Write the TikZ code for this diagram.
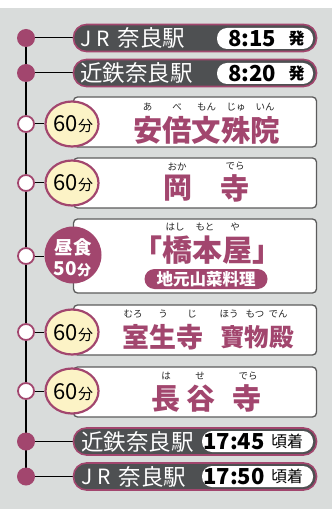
\documentclass[tikz,border=0pt]{standalone}
\usepackage{fontspec}
\setmainfont{Noto Sans CJK JP}
\usetikzlibrary{backgrounds,shapes.geometric}
\definecolor{bg}{HTML}{D9DCDB}
\definecolor{mag}{HTML}{A2466E}
\definecolor{dk}{HTML}{4E5052}
\definecolor{cream}{HTML}{FCF3C6}
\definecolor{bx}{HTML}{5C5C5C}
\newcommand{\fs}[1]{\fontsize{#1}{#1}\selectfont}
\begin{document}
\begin{tikzpicture}[x=1pt,y=-1pt,
  dotf/.style={circle, fill=mag, minimum size=18pt, inner sep=0pt},
  doth/.style={circle, fill=white, draw=mag, line width=1.8pt, minimum size=16pt, inner sep=0pt},
  stpill/.style={rectangle, rounded corners=13pt, fill=dk, draw=mag, line width=1.6pt, minimum width=243pt, minimum height=27pt, inner sep=0pt},
  tpill/.style={rectangle, rounded corners=10pt, fill=white, minimum height=21pt, inner sep=0pt},
  card/.style={rectangle, rounded corners=4pt, fill=white, draw=bx, line width=1.3pt, minimum width=243pt, inner sep=0pt},
  oval/.style={ellipse, fill=cream, draw=mag, line width=2.2pt, minimum width=53pt, minimum height=45pt, inner sep=0pt},
  lunch/.style={circle, fill=mag, minimum size=57pt, inner sep=0pt},
  sttxt/.style={text=white, anchor=west, inner sep=0pt, font=\fs{22.5}},
  jrtxt/.style={text=white, anchor=west, inner sep=0pt, font=\fs{21}},
  ttl/.style={text=mag, inner sep=0pt, font=\bfseries\fs{29}},
  furi/.style={text=black!85, inner sep=0pt, font=\fs{9.5}},
  conn/.style={line width=1pt, black}
]
\useasboundingbox (0,0) rectangle (332,518);
% station pills
\node[stpill] (p1) at (195,38) {};
\node[stpill] (p2) at (195,73) {};
\node[stpill] (p6) at (195,441.5) {};
\node[stpill] (p7) at (195,476.5) {};
\node[jrtxt] (s1j) at (80,38.5) {J};
\node[jrtxt] (s1r) at (96,38.5) {R};
\node[sttxt] (s1) at (117.5,38) {奈良駅};
\node[sttxt] (s2) at (80,73) {近鉄奈良駅};
\node[sttxt] (s6) at (81,441.5) {近鉄奈良駅};
\node[jrtxt] (s7j) at (81,477) {J};
\node[jrtxt] (s7r) at (97,477) {R};
\node[sttxt] (s7) at (118.5,476.5) {奈良駅};
\node[tpill, minimum width=96pt] (t1) at (265,38.5) {};
\node[tpill, minimum width=96pt] (t2) at (265,73.5) {};
\node[tpill, minimum width=111pt] (t6) at (257.5,441.5) {};
\node[tpill, minimum width=111pt] (t7) at (257.5,476.5) {};
\node[inner sep=0pt, font=\bfseries\fs{22}] (h1) at (252,38.5) {8:15};
\node[inner sep=0pt, font=\bfseries\fs{16}] (k1) at (296.5,38.5) {発};
\node[inner sep=0pt, font=\bfseries\fs{22}] (h2) at (252,73.5) {8:20};
\node[inner sep=0pt, font=\bfseries\fs{16}] (k2) at (296.5,73.5) {発};
\node[inner sep=0pt, font=\bfseries\fs{22}] (h6) at (234,441.5) {17:45};
\node[inner sep=0pt, font=\fs{16}] (k6) at (287,441.5) {頃着};
\node[inner sep=0pt, font=\bfseries\fs{22}] (h7) at (234,476.5) {17:50};
\node[inner sep=0pt, font=\fs{16}] (k7) at (287,476.5) {頃着};
% cards
\node[card, minimum height=50pt] (c1) at (195,122) {};
\node[card, minimum height=50pt] (c2) at (195,183) {};
\node[card, minimum height=74pt] (c3) at (195,256) {};
\node[card, minimum height=50pt] (c4) at (195,330) {};
\node[card, minimum height=50pt] (c5) at (195,392) {};
% duration marks
\node[oval] (o1) at (72,124) {};
\node[oval] (o2) at (72,183) {};
\node[lunch] (o3) at (73,255) {};
\node[oval] (o4) at (72,332) {};
\node[oval] (o5) at (72,391) {};
\foreach \n/\y in {o1/124,o2/183,o4/332,o5/391}{
  \node[inner sep=0pt, font=\fs{22}, anchor=base east] (\n n) at (78,\y+8) {60};
  \node[inner sep=0pt, font=\fs{15}, anchor=base west] (\n u) at (78,\y+8) {分};
}
\node[inner sep=0pt, text=white, font=\bfseries\fs{18.5}] (l1) at (73,247) {昼食};
\node[inner sep=0pt, text=white, font=\bfseries\fs{19}, anchor=base east] (l2) at (77,275.5) {50};
\node[inner sep=0pt, text=white, font=\bfseries\fs{14}, anchor=base west] (l3) at (77,275.5) {分};
% titles
\node[ttl, font=\bfseries\fs{29.4}] (n1) at (206.5,130) {安倍文殊院};
\node[furi] (f11) at (147.7,107) {あ};
\node[furi] (f12) at (177,107) {べ};
\node[furi] (f13) at (206.5,107) {もん};
\node[furi] (f14) at (236,107) {じゅ};
\node[furi] (f15) at (265,107) {いん};
\node[ttl] (n2a) at (177.5,188.5) {岡};
\node[ttl] (n2b) at (235,188.5) {寺};
\node[furi] (f21) at (177,166.5) {おか};
\node[furi] (f22) at (235,166.5) {でら};
\node[ttl, font=\bfseries\fs{30}] (n3) at (207.5,250) {「橋本屋」};
\node[furi] (f31) at (175,227) {はし};
\node[furi] (f32) at (205,227) {もと};
\node[furi] (f33) at (235,227) {や};
\node[rectangle, rounded corners=10pt, fill=mag, minimum width=123pt, minimum height=20pt, inner sep=0pt, text=white, font=\bfseries\fs{16.5}] (sub3) at (206,279) {地元山菜料理};
\node[ttl, font=\bfseries\fs{27}] (n4a) at (163,337) {室生寺};
\node[ttl, font=\bfseries\fs{24.5}] (n4b) at (257,337) {寶物殿};
\node[furi] (f41) at (133,314) {むろ};
\node[furi] (f42) at (163,314) {う};
\node[furi] (f43) at (192,314) {じ};
\node[furi] (f44) at (229,314) {ほう};
\node[furi] (f45) at (255,314) {もつ};
\node[furi] (f46) at (278,314) {でん};
\node[ttl] (n5a) at (166,398.5) {長};
\node[ttl] (n5b) at (201,398.5) {谷};
\node[ttl] (n5c) at (247,398.5) {寺};
\node[furi] (f51) at (166,376) {は};
\node[furi] (f52) at (200,376) {せ};
\node[furi] (f53) at (248,376) {でら};
% dots
\node[dotf] (d1) at (26,38) {};
\node[dotf] (d2) at (26,73) {};
\node[doth] (d3) at (26,124) {};
\node[doth] (d4) at (26,183) {};
\node[doth] (d5) at (26,256) {};
\node[doth] (d6) at (26,332) {};
\node[doth] (d7) at (26,391) {};
\node[dotf] (d8) at (26,441.5) {};
\node[dotf] (d9) at (26,476.5) {};
\begin{scope}[on background layer]
  \fill[bg] (0,8) rectangle (332,509);
  \draw[line width=2pt] (d1.center) -- (d9.center);
  \draw[conn] (d1.center) -- (d1.center -| p1.west);
  \draw[conn] (d2.center) -- (d2.center -| p2.west);
  \draw[conn] (d3.center) -- (d3.center -| o1.west);
  \draw[conn] (d4.center) -- (d4.center -| o2.west);
  \draw[conn] (d5.center) -- (d5.center -| o3.west);
  \draw[conn] (d6.center) -- (d6.center -| o4.west);
  \draw[conn] (d7.center) -- (d7.center -| o5.west);
  \draw[conn] (d8.center) -- (d8.center -| p6.west);
  \draw[conn] (d9.center) -- (d9.center -| p7.west);
\end{scope}
\end{tikzpicture}
\end{document}
